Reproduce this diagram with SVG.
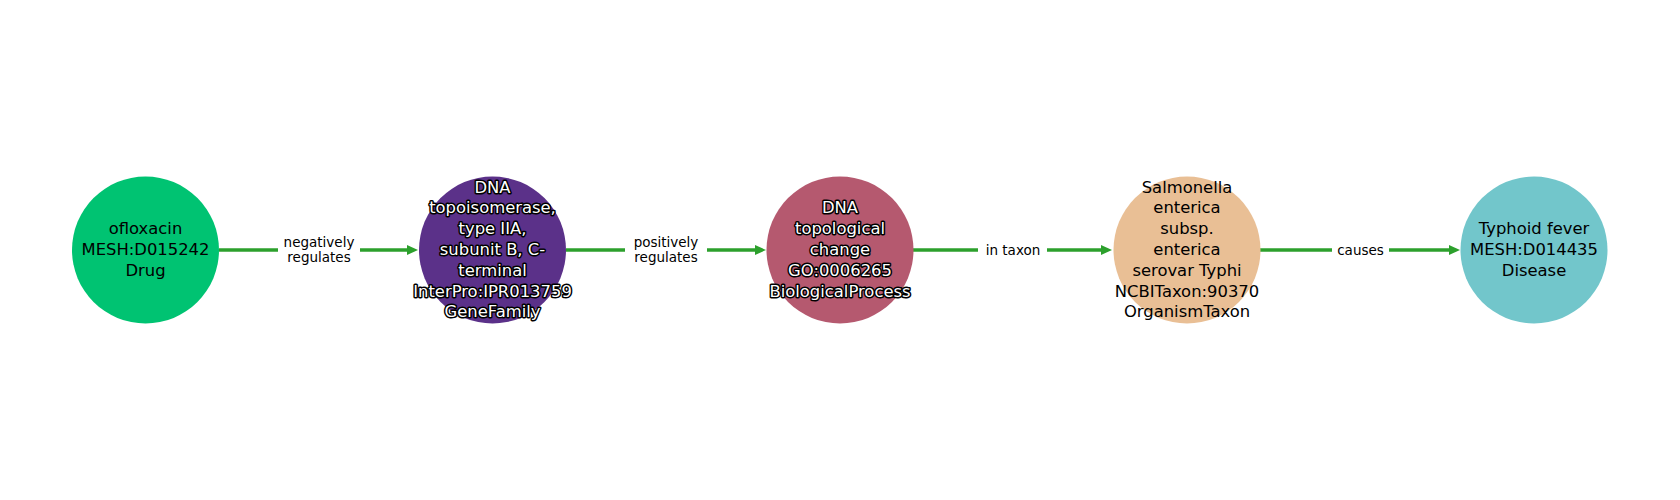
<svg xmlns="http://www.w3.org/2000/svg" width="1680" height="500" viewBox="0 0 1680 500">
<defs>
<style>
.nt{font-family:"DejaVu Sans","Liberation Sans",sans-serif;font-size:16.4px;text-anchor:middle;dominant-baseline:central;fill:#000}
.nw{fill:#fff;stroke:#000;stroke-width:3px;paint-order:stroke;stroke-linejoin:round}
.el{font-family:"DejaVu Sans","Liberation Sans",sans-serif;font-size:13.5px;text-anchor:middle;dominant-baseline:central;fill:#000}
.edge{stroke:#2ca02c;stroke-width:3.3;fill:none}
.lb{fill:#fff}
</style>
<marker id="ah" viewBox="0 0 11 10" refX="0" refY="5" markerWidth="11" markerHeight="10" markerUnits="userSpaceOnUse" orient="auto">
<path d="M0,0 L11,5 L0,10 z" fill="#2ca02c"/>
</marker>
</defs>
<rect width="1680" height="500" fill="#fff"/>
<g id="connectors">
<line class="edge" x1="219" y1="250" x2="407" y2="250" marker-end="url(#ah)"/>
<line class="edge" x1="566" y1="250" x2="755" y2="250" marker-end="url(#ah)"/>
<line class="edge" x1="913" y1="250" x2="1101" y2="250" marker-end="url(#ah)"/>
<line class="edge" x1="1260" y1="250" x2="1449" y2="250" marker-end="url(#ah)"/>
<rect class="lb" x="278" y="233" width="82" height="33"/>
<text class="el" x="319" y="241.5">negatively</text>
<text class="el" x="319" y="257">regulates</text>
<rect class="lb" x="625" y="233" width="82" height="33"/>
<text class="el" x="666" y="241.5">positively</text>
<text class="el" x="666" y="257">regulates</text>
<rect class="lb" x="978" y="241" width="69" height="18"/>
<text class="el" x="1013" y="249.5">in taxon</text>
<rect class="lb" x="1332" y="241" width="57" height="18"/>
<text class="el" x="1360.5" y="249.5">causes</text>
</g>
<g id="node-ofloxacin">
<circle cx="145.5" cy="250" r="73.5" fill="#00c372"/>
<text class="nt" x="145.5" y="228.7">ofloxacin</text>
<text class="nt" x="145.5" y="249.5">MESH:D015242</text>
<text class="nt" x="145.5" y="270.3">Drug</text>
</g>
<g id="node-topoisomerase">
<circle cx="492.5" cy="250" r="73.5" fill="#5b3189"/>
<text class="nt nw" x="492.5" y="187.1">DNA</text>
<text class="nt nw" x="492.5" y="207.9">topoisomerase,</text>
<text class="nt nw" x="492.5" y="228.7">type IIA,</text>
<text class="nt nw" x="492.5" y="249.5">subunit B, C-</text>
<text class="nt nw" x="492.5" y="270.3">terminal</text>
<text class="nt nw" x="492.5" y="291.1">InterPro:IPR013759</text>
<text class="nt nw" x="492.5" y="311.9">GeneFamily</text>
</g>
<g id="node-topological-change">
<circle cx="840" cy="250" r="73.5" fill="#b5596f"/>
<text class="nt nw" x="840" y="207.9">DNA</text>
<text class="nt nw" x="840" y="228.7">topological</text>
<text class="nt nw" x="840" y="249.5">change</text>
<text class="nt nw" x="840" y="270.3">GO:0006265</text>
<text class="nt nw" x="840" y="291.1">BiologicalProcess</text>
</g>
<g id="node-salmonella">
<circle cx="1187" cy="250" r="73.5" fill="#e9bf95"/>
<text class="nt" x="1187" y="187.1">Salmonella</text>
<text class="nt" x="1187" y="207.9">enterica</text>
<text class="nt" x="1187" y="228.7">subsp.</text>
<text class="nt" x="1187" y="249.5">enterica</text>
<text class="nt" x="1187" y="270.3">serovar Typhi</text>
<text class="nt" x="1187" y="291.1">NCBITaxon:90370</text>
<text class="nt" x="1187" y="311.9">OrganismTaxon</text>
</g>
<g id="node-typhoid">
<circle cx="1534" cy="250" r="73.5" fill="#72c6cb"/>
<text class="nt" x="1534" y="228.7">Typhoid fever</text>
<text class="nt" x="1534" y="249.5">MESH:D014435</text>
<text class="nt" x="1534" y="270.3">Disease</text>
</g>
</svg>
